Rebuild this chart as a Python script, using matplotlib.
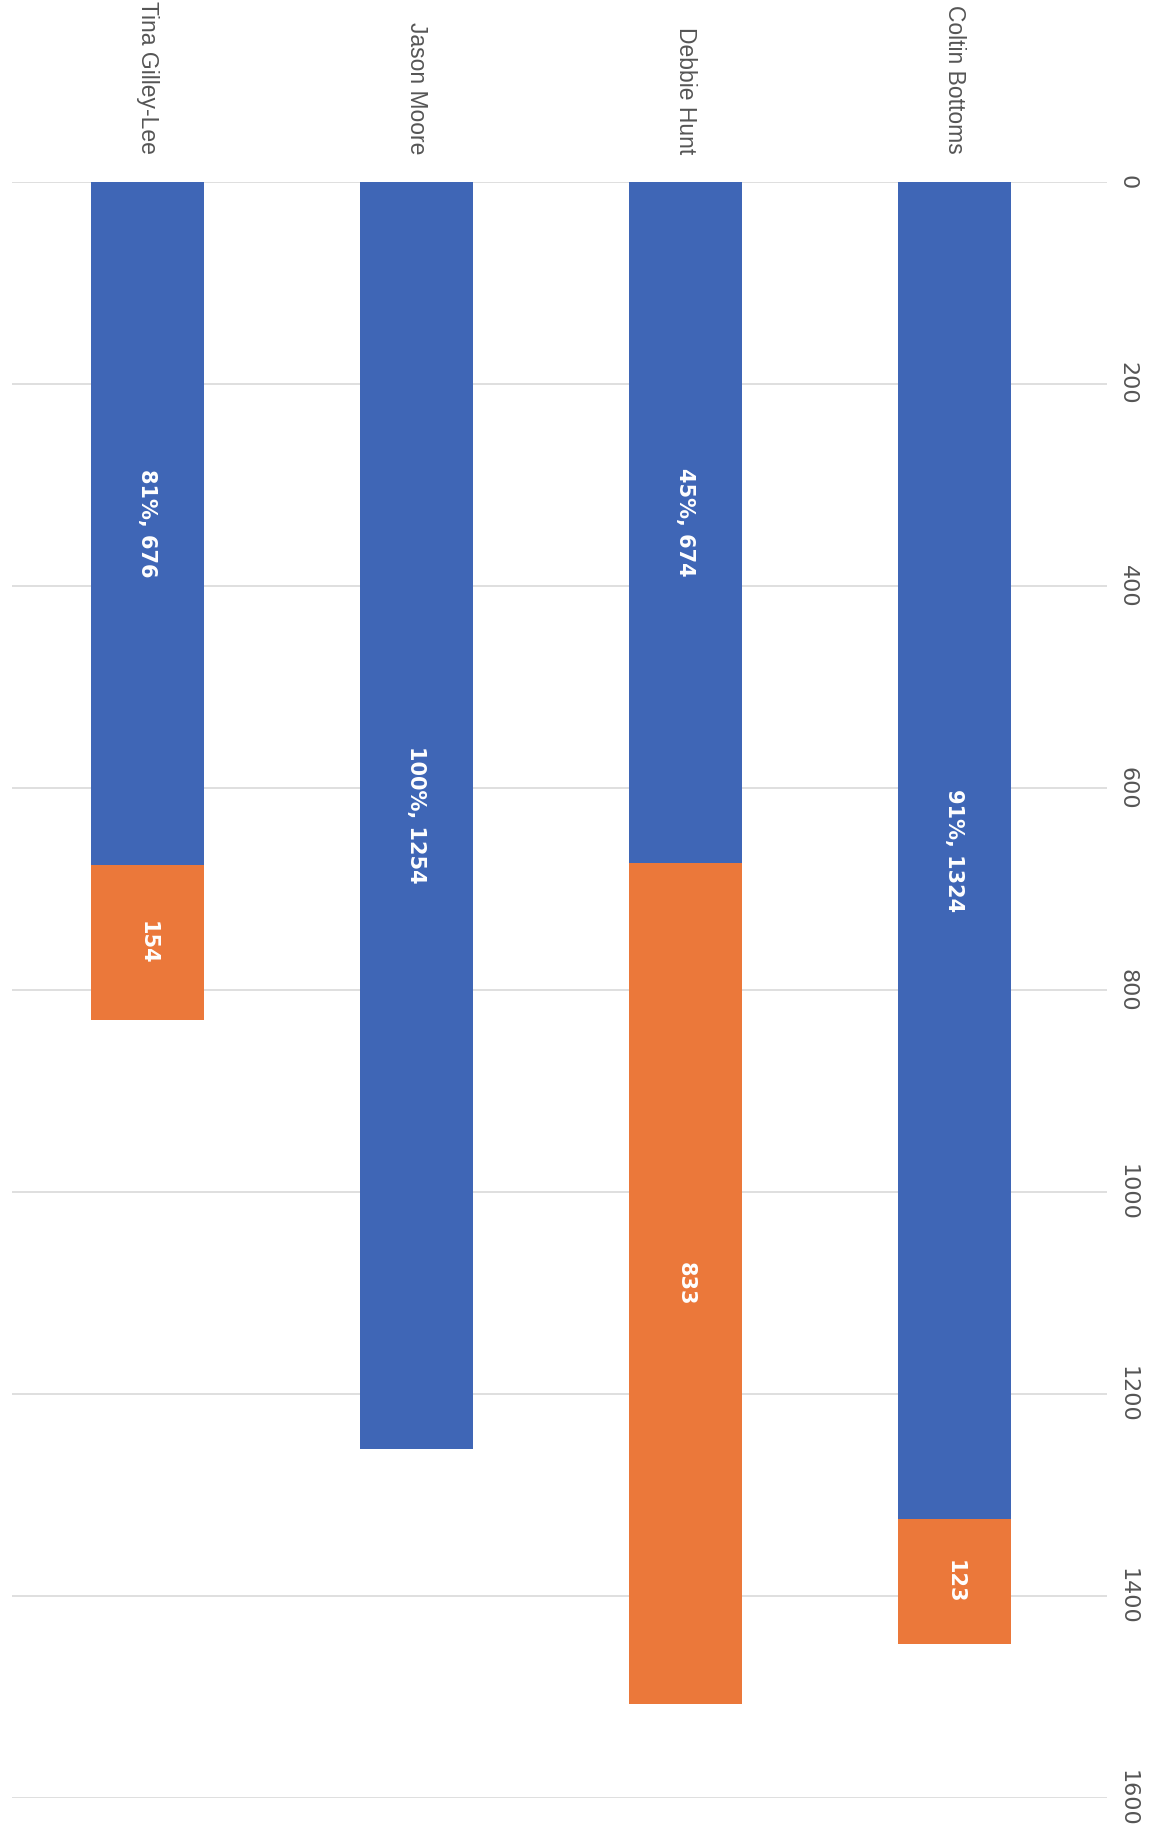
import numpy as np
import matplotlib
matplotlib.use("Agg")
import matplotlib.pyplot as plt

# data (chart is printed sideways: values run top -> bottom)
names = ["Coltin Bottoms", "Debbie Hunt", "Jason Moore", "Tina Gilley-Lee"]
done = [1324, 674, 1254, 676]
left = [123, 833, 0, 154]
pct = [91, 45, 100, 81]
ticks = [0, 200, 400, 600, 800, 1000, 1200, 1400, 1600]

blue = "#3F66B6"
orange = "#EB783A"

fig = plt.figure(figsize=(11.6, 18.35), dpi=100)
ax = fig.add_axes([0.010, 0.020, 0.944, 0.881])

x = np.arange(len(names))
b1 = ax.bar(x, done, width=0.42, color=blue, zorder=3)
b2 = ax.bar(x, left, width=0.42, bottom=done, color=orange, zorder=3)

# labels inside the bars
ax.bar_label(b1, labels=["{}%, {}".format(p, v) for p, v in zip(pct, done)],
             label_type="center", rotation=-90, color="white",
             fontsize=15, fontweight="bold", family="DejaVu Sans")
ax.bar_label(b2, labels=[str(v) if v else "" for v in left],
             label_type="center", rotation=-90, color="white",
             fontsize=15, fontweight="bold", family="DejaVu Sans")

ax.set_xlim(3.505, -0.566)
ax.set_ylim(1600, 0)

# category names on top, value ticks on right, all turned sideways
ax.xaxis.tick_top()
ax.set_xticks(x)
ax.set_xticklabels(names, rotation=-90, fontsize=16.5, color="#555555",
                   family="Liberation Sans")
ax.tick_params(axis="x", length=0, pad=20)
ax.yaxis.tick_right()
ax.set_yticks(ticks)
ax.set_yticklabels([str(t) for t in ticks], rotation=-90, fontsize=16,
                   color="#555555", family="Liberation Sans Narrow",
                   va="center")
ax.tick_params(axis="y", length=0, pad=8)

ax.grid(axis="y", color="#d9d9d9", lw=1.2, zorder=0)
for s in ax.spines.values():
    s.set_visible(False)

fig.savefig("out.png", dpi=100, facecolor="white")
